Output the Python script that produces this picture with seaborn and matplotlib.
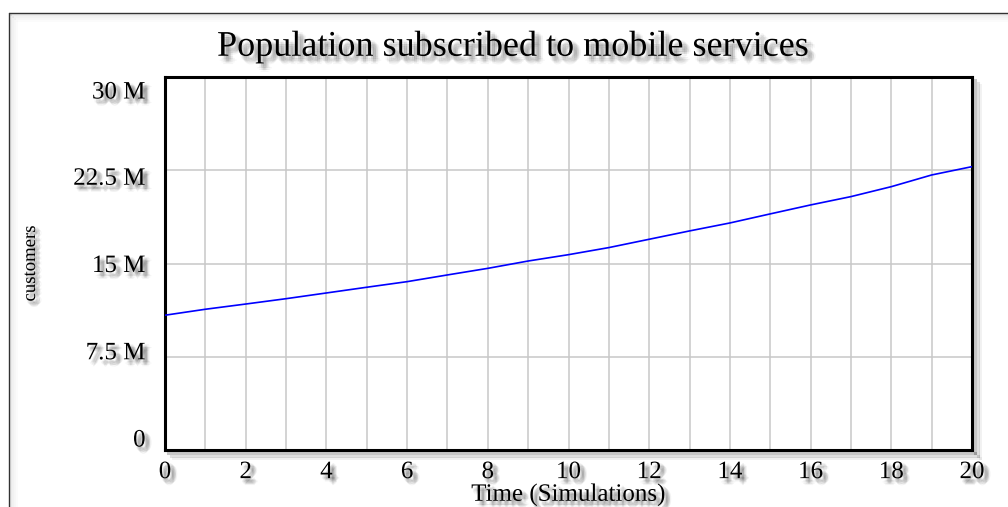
import numpy as np
import pandas as pd
import seaborn as sns
import matplotlib
matplotlib.use("Agg")
import matplotlib.pyplot as plt
import matplotlib.patheffects as pe
import matplotlib.transforms as mtransforms
from matplotlib.lines import Line2D

# Simulated subscribers over time
time = [0, 1, 2, 3, 4, 5, 6, 7, 8, 9, 10, 11, 12, 13, 14, 15, 16, 17, 18, 19, 20]
customers = [10.84e6, 11.32e6, 11.74e6, 12.17e6, 12.63e6, 13.09e6, 13.54e6, 14.08e6,
             14.61e6, 15.20e6, 15.71e6, 16.28e6, 16.95e6, 17.62e6, 18.26e6, 18.99e6,
             19.71e6, 20.38e6, 21.18e6, 22.12e6, 22.79e6]

x_ticks = [0, 2, 4, 6, 8, 10, 12, 14, 16, 18, 20]
y_ticks = [0, 7.5e6, 15e6, 22.5e6, 30e6]
y_tick_labels = ["0", "7.5 M", "15 M", "22.5 M", "30 M"]

title = "Population subscribed to mobile services"
x_label = "Time (Simulations)"
y_label = "customers"

df = pd.DataFrame({"Time": time, "customers": customers})

sns.set_theme(style="white")
plt.rcParams["font.family"] = ["Liberation Serif", "DejaVu Serif"]
plt.rcParams["text.color"] = "black"
plt.rcParams["axes.labelcolor"] = "black"
plt.rcParams["xtick.color"] = "black"
plt.rcParams["ytick.color"] = "black"

fig = plt.figure(figsize=(10.08, 5.07), dpi=100)
ax = fig.add_axes([165 / 1008, 57 / 507, 807 / 1008, 373 / 507])


def soft_shadow(off=3.0, spread=2.0, alpha=0.05):
    """Blurred drop shadow built from many faint offset copies."""
    effects = []
    for dx in np.linspace(-spread, spread, 5):
        for dy in np.linspace(-spread, spread, 5):
            if dx * dx + dy * dy <= spread * spread + 0.01:
                effects.append(pe.SimplePatchShadow(offset=(off + dx, -off + dy),
                                                    shadow_rgbFace="black", alpha=alpha))
    effects.append(pe.Normal())
    return effects


sns.lineplot(data=df, x="Time", y="customers", ax=ax, color="#0000ff", linewidth=1.2, zorder=3)

ax.set_xlim(0, 20)
ax.set_ylim(0, 30e6)
ax.set_xticks(x_ticks)
ax.set_xticks(time, minor=True)
ax.set_yticks(y_ticks)
ax.set_yticklabels(y_tick_labels)

ax.grid(True, which="both", axis="x", color="#c8c8c8", linewidth=1.1)
ax.grid(True, which="major", axis="y", color="#c8c8c8", linewidth=1.1)
ax.set_axisbelow(True)

ax.tick_params(axis="both", which="both", length=0, labelcolor="black")
ax.tick_params(axis="x", pad=8, labelsize=18)
ax.tick_params(axis="y", pad=14, labelsize=18)

for sp in ax.spines.values():
    sp.set_visible(True)
    sp.set_color("black")
    sp.set_linewidth(2.2)
for side in ("right", "bottom"):
    ax.spines[side].set_path_effects([
        pe.SimpleLineShadow(offset=(2, -2), shadow_color="black", alpha=0.22),
        pe.SimpleLineShadow(offset=(4, -4), shadow_color="black", alpha=0.12),
        pe.SimpleLineShadow(offset=(6, -6), shadow_color="black", alpha=0.05),
        pe.Normal()])

# Vensim-style spacing of the value labels on the vertical axis
label_shift_px = [12, 6, 0, -6, -13]
for lab, dpx in zip(ax.get_yticklabels(), label_shift_px):
    lab.set_transform(lab.get_transform() +
                      mtransforms.ScaledTranslation(0, dpx / 100, fig.dpi_scale_trans))

for lab in ax.get_xticklabels() + ax.get_yticklabels():
    lab.set_path_effects(soft_shadow())

ax.set_xlabel(x_label, fontsize=18, labelpad=0, color="black")
ax.set_ylabel(y_label, fontsize=13.5, labelpad=0, color="black")
ax.xaxis.label.set_path_effects(soft_shadow())
ax.yaxis.label.set_path_effects(soft_shadow(off=2.5))
ax.yaxis.set_label_coords(-126 / 807, 0.5)

fig.text(513 / 1008, 1 - 47 / 507, title, ha="center", va="center", fontsize=26,
         color="black", path_effects=soft_shadow(off=3.5, spread=2.5, alpha=0.045))

# Outer panel edge (top and left)
fig.add_artist(Line2D([9 / 1008, 1.0], [1 - 13 / 507, 1 - 13 / 507], transform=fig.transFigure,
                      color="#333333", linewidth=1.0))
fig.add_artist(Line2D([9 / 1008, 9 / 1008], [0, 1 - 13 / 507], transform=fig.transFigure,
                      color="#333333", linewidth=1.0))
for i, a in enumerate([0.08, 0.05, 0.03, 0.015]):
    fig.add_artist(Line2D([(11 + 2 * i) / 1008, 1.0], [1 - (15 + 2 * i) / 507] * 2,
                          transform=fig.transFigure, color="black", alpha=a, linewidth=1.5))
    fig.add_artist(Line2D([(11 + 2 * i) / 1008] * 2, [0, 1 - (15 + 2 * i) / 507],
                          transform=fig.transFigure, color="black", alpha=a, linewidth=1.5))

fig.savefig("out.png", dpi=100)
